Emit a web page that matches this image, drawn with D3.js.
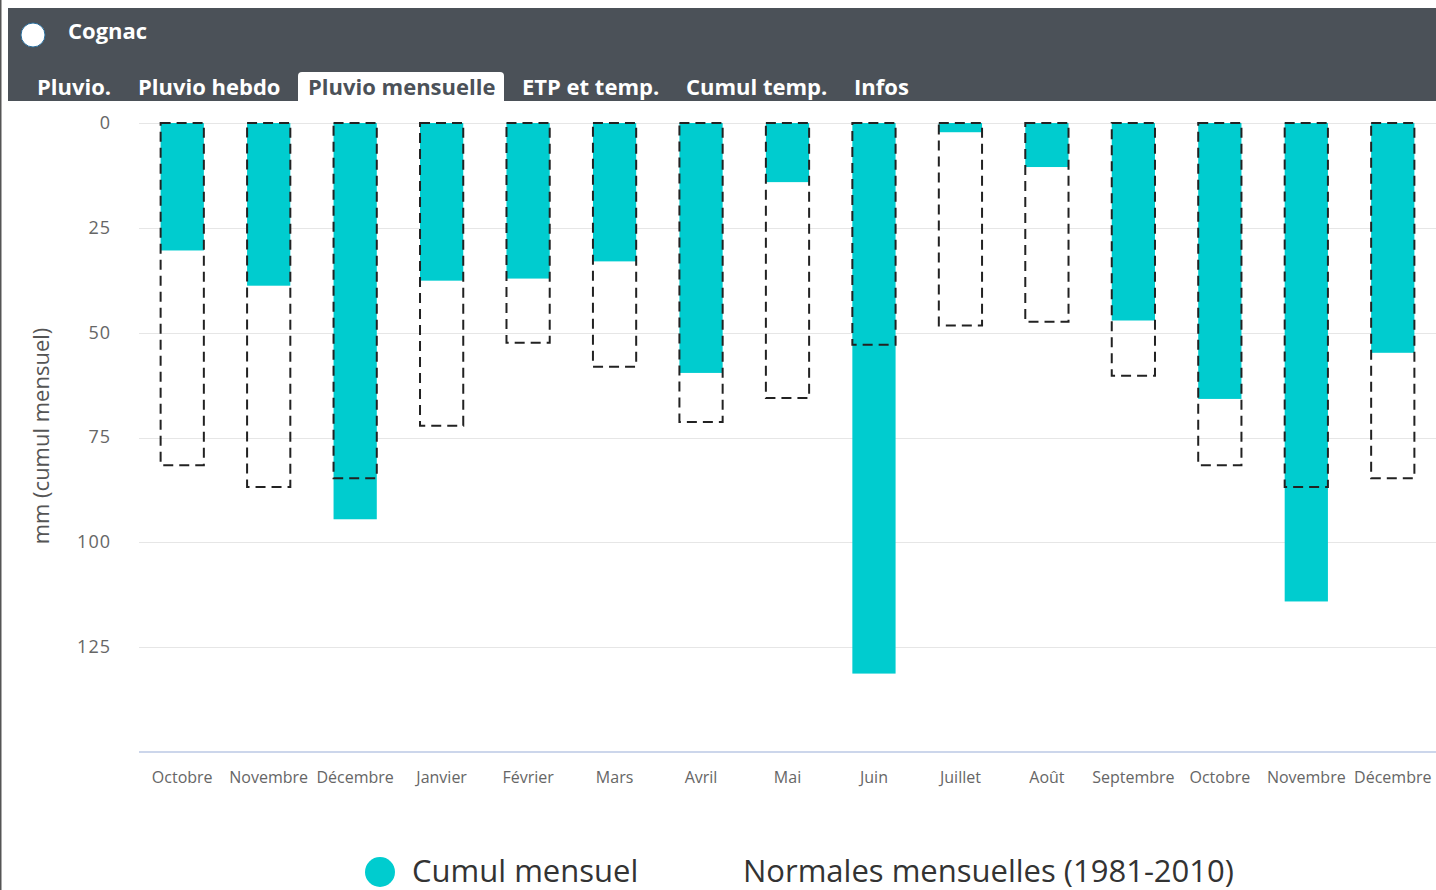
<!DOCTYPE html>
<html>
<head>
<meta charset="utf-8">
<script src="https://cdn.jsdelivr.net/npm/d3@7"></script>
<style>
  body { margin: 0; background: #fff; overflow: hidden; }
  svg { display: block; }
</style>
</head>
<body>
<svg id="chart" width="1436" height="890"></svg>
<script>
// months shown (Oct of previous year -> Dec of current year)
const months = ["Octobre", "Novembre", "Décembre", "Janvier", "Février", "Mars", "Avril",
  "Mai", "Juin", "Juillet", "Août", "Septembre", "Octobre", "Novembre", "Décembre"];
// cumul mensuel (mm)
const cumul = [30.4, 38.8, 94.5, 37.6, 37.1, 33.0, 59.6, 14.1, 131.3, 2.2, 10.5, 47.1, 65.8, 114.1, 54.8];
// normales mensuelles 1981-2010 (mm)
const normales = [81.6, 86.8, 84.7, 72.2, 52.4, 58.1, 71.3, 65.6, 52.9, 48.3, 47.4, 60.3, 81.6, 86.8, 84.7];
const yTicks = [0, 25, 50, 75, 100, 125];
const tabs = ["Pluvio.", "Pluvio hebdo", "Pluvio mensuelle", "ETP et temp.", "Cumul temp.", "Infos"];

const svg = d3.select("#chart");
const teal = "#00cccf";

// header band
svg.append("rect").attr("x", 8).attr("y", 8).attr("width", 1428).attr("height", 93).attr("fill", "#4b5158");
svg.append("line").attr("x1", 0.5).attr("x2", 0.5).attr("y1", 0).attr("y2", 890)
  .attr("stroke", "#555").attr("stroke-width", 2);
svg.append("circle").attr("cx", 33).attr("cy", 35).attr("r", 12)
  .attr("fill", "#fff").attr("stroke", "#2a6f9e").attr("stroke-width", 1);
svg.append("text").attr("x", 68).attr("y", 39).text("Cognac")
  .attr("fill", "#fff").style("font", "bold 22px 'Open Sans', sans-serif");

// tabs
const tabX = [37, 138, 308, 522, 686, 854];
tabs.forEach((t, i) => {
  const active = t === "Pluvio mensuelle";
  if (active) {
    svg.append("path").attr("d", "M298,101 V76 Q298,72 302,72 H500 Q504,72 504,76 V101 Z").attr("fill", "#fff");
  }
  svg.append("text").attr("x", tabX[i]).attr("y", 95).text(t)
    .attr("fill", active ? "#4b5158" : "#fff")
    .style("font", "bold 22px 'Open Sans', sans-serif");
});

// plot area
const m = { left: 139, right: 1436, top: 123, bottom: 752 };
const x = d3.scaleBand().domain(d3.range(months.length)).range([m.left, m.right])
  .paddingInner(0.5).paddingOuter(0.25);
const y = d3.scaleLinear().domain([0, 150]).range([m.top, m.bottom]);

svg.append("g").selectAll("line").data(yTicks).join("line")
  .attr("x1", m.left).attr("x2", m.right)
  .attr("y1", d => Math.round(y(d)) + 0.5).attr("y2", d => Math.round(y(d)) + 0.5)
  .attr("stroke", "#e6e6e6");

// bottom axis line
svg.append("line").attr("x1", m.left).attr("x2", m.right).attr("y1", m.bottom).attr("y2", m.bottom)
  .attr("stroke", "#ccd6eb").attr("stroke-width", 2);

// y axis labels
const yAxis = svg.append("g").attr("transform", `translate(${m.left},0)`)
  .call(d3.axisLeft(y).tickValues(yTicks).tickSize(0).tickPadding(28));
yAxis.select(".domain").remove();
yAxis.selectAll("text").attr("fill", "#666").attr("dy", "0.3em")
  .style("font", "18px 'Open Sans', sans-serif").style("letter-spacing", "1px");

svg.append("text").attr("transform", "translate(49,436) rotate(-90)")
  .attr("text-anchor", "middle").attr("fill", "#555").text("mm (cumul mensuel)")
  .style("font", "22px 'Open Sans', sans-serif");

// x axis labels
const xAxis = svg.append("g").attr("transform", `translate(0,${m.bottom})`)
  .call(d3.axisBottom(x).tickFormat(i => months[i]).tickSize(0).tickPadding(20));
xAxis.select(".domain").remove();
xAxis.selectAll("text").attr("fill", "#666")
  .style("font", "16px 'Open Sans', sans-serif");

// bars: cumul mensuel
svg.append("g").selectAll("rect").data(cumul).join("rect")
  .attr("x", (d, i) => x(i)).attr("width", x.bandwidth())
  .attr("y", y(0)).attr("height", d => y(d) - y(0))
  .attr("fill", teal);

// dashed boxes: normales
svg.append("g").selectAll("rect").data(normales).join("rect")
  .attr("x", (d, i) => x(i)).attr("width", x.bandwidth())
  .attr("y", y(0)).attr("height", d => y(d) - y(0))
  .attr("fill", "none").attr("stroke", "#222").attr("stroke-width", 2)
  .attr("stroke-dasharray", "10,6");

// legend
const lg = svg.append("g").style("font", "31px 'Open Sans', sans-serif");
lg.append("circle").attr("cx", 380).attr("cy", 872).attr("r", 15).attr("fill", teal);
lg.append("text").attr("x", 412).attr("y", 882).attr("fill", "#333").text("Cumul mensuel");
lg.append("text").attr("x", 743).attr("y", 882).attr("fill", "#333").text("Normales mensuelles (1981-2010)");
</script>
</body>
</html>
